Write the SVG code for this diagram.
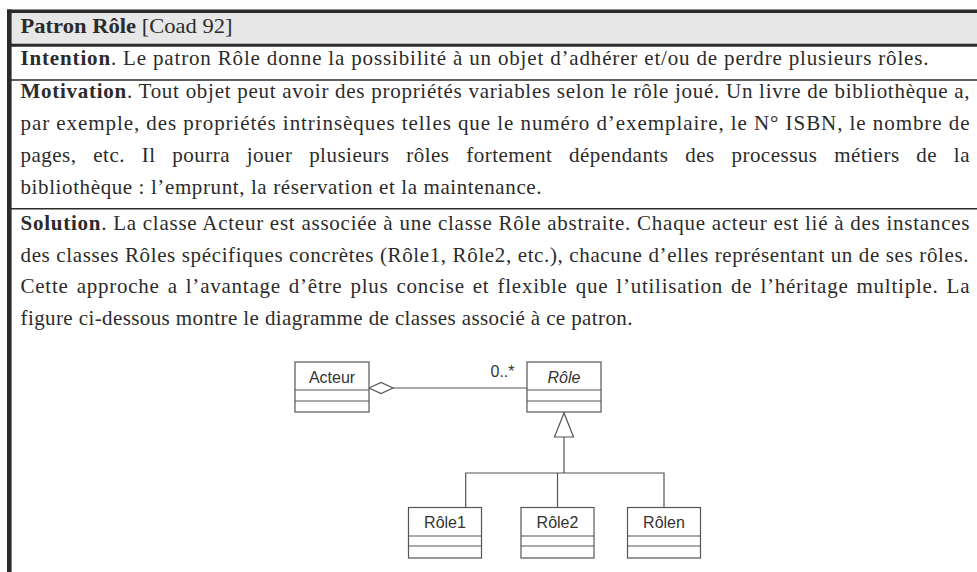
<svg xmlns="http://www.w3.org/2000/svg" width="977" height="572" viewBox="0 0 977 572">
<style>
.t{font-family:"Liberation Serif","Times New Roman",serif;font-size:21px;fill:#2b2b2b}
.b{font-weight:bold}
.sep{stroke:#2b2b2b}
.box{fill:#fff;stroke:#555;stroke-width:1.2}
.ln{stroke:#555;stroke-width:1.2;fill:none}
.lbl{font-family:"Liberation Sans",Arial,sans-serif;font-size:16px;fill:#333;text-anchor:middle}
</style>
<rect x="0" y="0" width="977" height="572" fill="#fff"/>
<!-- frame -->
<rect x="11" y="13" width="966" height="31" fill="#e7e7e8"/>
<line class="sep" x1="7" y1="11.2" x2="977" y2="11.2" stroke-width="3.5"/>
<line class="sep" x1="9.3" y1="9.5" x2="9.3" y2="572" stroke-width="4.6"/>
<line class="sep" x1="11" y1="45.3" x2="977" y2="45.3" stroke-width="3"/>
<line class="sep" x1="11" y1="80" x2="977" y2="80" stroke-width="1.6"/>
<line class="sep" x1="11" y1="208.8" x2="977" y2="208.8" stroke-width="1.6"/>

<!-- texts -->
<text class="t" x="20.5" y="33" textLength="212" lengthAdjust="spacingAndGlyphs"><tspan class="b">Patron Rôle</tspan> [Coad 92]</text>
<text class="t" x="20.5" y="65" textLength="908" lengthAdjust="spacing"><tspan class="b">Intention</tspan>. Le patron Rôle donne la possibilité à un objet d’adhérer et/ou de perdre plusieurs rôles.</text>

<text class="t" x="20.5" y="97.5" textLength="949" lengthAdjust="spacing"><tspan class="b">Motivation</tspan>. Tout objet peut avoir des propriétés variables selon le rôle joué. Un livre de bibliothèque a,</text>
<text class="t" x="20.5" y="129.5" textLength="949" lengthAdjust="spacing">par exemple, des propriétés intrinsèques telles que le numéro d’exemplaire, le N° ISBN, le nombre de</text>
<text class="t" x="20.5" y="161.5" textLength="949" lengthAdjust="spacing" word-spacing="11">pages, etc. Il pourra jouer plusieurs rôles fortement dépendants des processus métiers de la</text>
<text class="t" x="20.5" y="193.5" textLength="521" lengthAdjust="spacing">bibliothèque : l’emprunt, la réservation et la maintenance.</text>

<text class="t" x="20.5" y="230" textLength="949" lengthAdjust="spacing"><tspan class="b">Solution</tspan>. La classe Acteur est associée à une classe Rôle abstraite. Chaque acteur est lié à des instances</text>
<text class="t" x="20.5" y="261.5" textLength="948" lengthAdjust="spacing">des classes Rôles spécifiques concrètes (Rôle1, Rôle2, etc.), chacune d’elles représentant un de ses rôles.</text>
<text class="t" x="20.5" y="293" textLength="949" lengthAdjust="spacing" word-spacing="2">Cette approche a l’avantage d’être plus concise et flexible que l’utilisation de l’héritage multiple. La</text>
<text class="t" x="20.5" y="324.5" textLength="612" lengthAdjust="spacing">figure ci-dessous montre le diagramme de classes associé à ce patron.</text>

<!-- connectors -->
<g id="connectors">
  <line class="ln" x1="393" y1="388" x2="527" y2="388"/>
  <polygon class="box" points="369,388 381,382.5 393,388 381,393.5"/>
  <text class="lbl" x="502.5" y="377">0..*</text>
  <line class="ln" x1="564" y1="437" x2="564" y2="473"/>
  <polygon class="box" points="564,413 554.5,437 573.5,437"/>
  <polyline class="ln" points="465.7,507.5 465.7,473 664,473 664,507.5"/>
  <line class="ln" x1="557.5" y1="473" x2="557.5" y2="507.5"/>
</g>

<g id="acteur">
  <rect class="box" x="295" y="362" width="74" height="50"/>
  <line class="ln" x1="295" y1="390" x2="369" y2="390"/>
  <line class="ln" x1="295" y1="401" x2="369" y2="401"/>
  <text class="lbl" x="332" y="383">Acteur</text>
</g>
<g id="role">
  <rect class="box" x="527" y="362" width="74" height="50"/>
  <line class="ln" x1="527" y1="390" x2="601" y2="390"/>
  <line class="ln" x1="527" y1="401" x2="601" y2="401"/>
  <text class="lbl" x="564" y="383" font-style="italic">Rôle</text>
</g>
<g id="role1">
  <rect class="box" x="408.5" y="507.5" width="73" height="50.5"/>
  <line class="ln" x1="408.5" y1="536" x2="481.5" y2="536"/>
  <line class="ln" x1="408.5" y1="546" x2="481.5" y2="546"/>
  <text class="lbl" x="445" y="528">Rôle1</text>
</g>
<g id="role2">
  <rect class="box" x="521" y="507.5" width="73" height="50.5"/>
  <line class="ln" x1="521" y1="536" x2="594" y2="536"/>
  <line class="ln" x1="521" y1="546" x2="594" y2="546"/>
  <text class="lbl" x="557.5" y="528">Rôle2</text>
</g>
<g id="rolen">
  <rect class="box" x="627.5" y="507.5" width="73" height="50.5"/>
  <line class="ln" x1="627.5" y1="536" x2="700.5" y2="536"/>
  <line class="ln" x1="627.5" y1="546" x2="700.5" y2="546"/>
  <text class="lbl" x="664" y="528">Rôlen</text>
</g>
</svg>
